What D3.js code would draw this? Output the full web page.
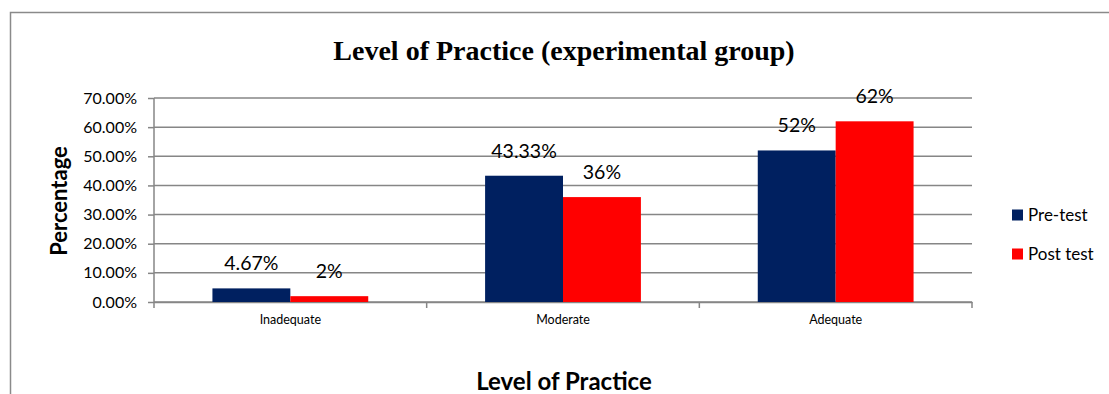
<!DOCTYPE html>
<html>
<head>
<meta charset="utf-8">
<script src="https://cdn.jsdelivr.net/npm/d3@7"></script>
<style>
  body { margin: 0; background: #fff; }
  svg { display: block; }
</style>
</head>
<body>
<svg id="chart" width="1109" height="394"></svg>
<script>
// data
const categories = ['Inadequate', 'Moderate', 'Adequate'];
const seriesNames = ['Pre-test', 'Post test'];
const preTest = [4.67, 43.33, 52];
const postTest = [2, 36, 62];
const preLabels = ['4.67%', '43.33%', '52%'];
const postLabels = ['2%', '36%', '62%'];
const yTicks = [0, 10, 20, 30, 40, 50, 60, 70];

const colors = ['#002060', '#ff0000'];
const sans = 'Lato, Calibri, sans-serif';

const svg = d3.select('#chart');

// outer chart frame (cut at the right and bottom)
svg.append('path')
    .attr('d', 'M10.5,394 V12.5 H1109')
    .attr('fill', 'none')
    .attr('stroke', '#8a8a8a')
    .attr('stroke-width', 1.5);

const plot = { left: 154, right: 972, top: 98, bottom: 302 };

let x = d3.scaleBand()
    .domain(categories)
    .range([plot.left, plot.right])
    .paddingInner(0)
    .paddingOuter(0);

let y = d3.scaleLinear()
    .domain([0, 70])
    .range([plot.bottom, plot.top]);

// each group: two bars, gap width 150% of one bar
let barW = x.bandwidth() / 3.5;

let rows = categories.map((c, i) => ({
    cat: c,
    vals: [
        { s: 0, v: preTest[i], label: preLabels[i] },
        { s: 1, v: postTest[i], label: postLabels[i] }
    ]
}));

// gridlines
svg.append('g')
    .selectAll('line')
    .data(yTicks)
    .join('line')
    .attr('x1', plot.left)
    .attr('x2', plot.right)
    .attr('y1', d => y(d))
    .attr('y2', d => y(d))
    .attr('stroke', '#868686')
    .attr('stroke-width', 1.5);

// y axis
let yAxis = d3.axisLeft(y)
    .tickValues(yTicks)
    .tickSize(6)
    .tickPadding(11)
    .tickFormat(d => d.toFixed(2) + '%');

let yG = svg.append('g')
    .attr('transform', `translate(${plot.left},0)`)
    .call(yAxis);
yG.select('.domain').attr('stroke', '#868686').attr('stroke-width', 1.5)
    .attr('d', `M0,${plot.top}V${plot.bottom + 1}`);
yG.selectAll('.tick line').attr('stroke', '#868686').attr('stroke-width', 1.5);
yG.selectAll('.tick text')
    .attr('font-family', sans)
    .attr('font-size', 16)
    .attr('fill', '#000');

// x axis
let xAxis = d3.axisBottom(x).tickSize(0).tickPadding(13);
let xG = svg.append('g')
    .attr('transform', `translate(0,${plot.bottom})`)
    .call(xAxis);
xG.select('.domain').attr('stroke', '#868686').attr('stroke-width', 1.5);
xG.selectAll('.tick text')
    .attr('font-family', sans)
    .attr('font-size', 12.5)
    .attr('fill', '#000');

// boundary tick marks on the x axis
let bounds = categories.map(c => x(c)).concat([plot.right]);
svg.append('g')
    .selectAll('line')
    .data(bounds)
    .join('line')
    .attr('x1', d => d)
    .attr('x2', d => d)
    .attr('y1', plot.bottom)
    .attr('y2', plot.bottom + 6)
    .attr('stroke', '#868686')
    .attr('stroke-width', 1.5);

// bars
let groupG = svg.append('g')
    .selectAll('g')
    .data(rows)
    .join('g')
    .attr('transform', d => `translate(${x(d.cat) + x.bandwidth() / 2 - barW},0)`);

groupG.selectAll('rect')
    .data(d => d.vals)
    .join('rect')
    .attr('x', d => d.s * barW)
    .attr('y', d => y(d.v))
    .attr('width', barW)
    .attr('height', d => y(0) - y(d.v))
    .attr('fill', d => colors[d.s]);

groupG.selectAll('text')
    .data(d => d.vals)
    .join('text')
    .attr('x', d => d.s * barW + barW / 2)
    .attr('y', d => y(d.v) - 18)
    .attr('text-anchor', 'middle')
    .attr('font-family', sans)
    .attr('font-size', 19.5)
    .attr('fill', '#000')
    .text(d => d.label);

// legend
let legG = svg.append('g')
    .selectAll('g')
    .data(seriesNames)
    .join('g')
    .attr('transform', (d, i) => `translate(1012,${215 + i * 39})`);

legG.append('rect')
    .attr('x', 0)
    .attr('y', -5.5)
    .attr('width', 11)
    .attr('height', 11)
    .attr('fill', (d, i) => colors[i]);

legG.append('text')
    .attr('x', 16)
    .attr('y', 6)
    .attr('font-family', sans)
    .attr('font-size', 17)
    .attr('fill', '#000')
    .text(d => d);

// titles
svg.append('text')
    .attr('x', 564)
    .attr('y', 60)
    .attr('text-anchor', 'middle')
    .attr('font-family', '"Liberation Serif", "Times New Roman", serif')
    .attr('font-weight', 'bold')
    .attr('font-size', 28)
    .text('Level of Practice (experimental group)');

svg.append('text')
    .attr('transform', 'translate(67,201) rotate(-90)')
    .attr('text-anchor', 'middle')
    .attr('font-family', sans)
    .attr('font-weight', 'bold')
    .attr('font-size', 22)
    .text('Percentage');

svg.append('text')
    .attr('x', 564)
    .attr('y', 390)
    .attr('text-anchor', 'middle')
    .attr('font-family', sans)
    .attr('font-weight', 'bold')
    .attr('font-size', 24)
    .text('Level of Practice');
</script>
</body>
</html>
